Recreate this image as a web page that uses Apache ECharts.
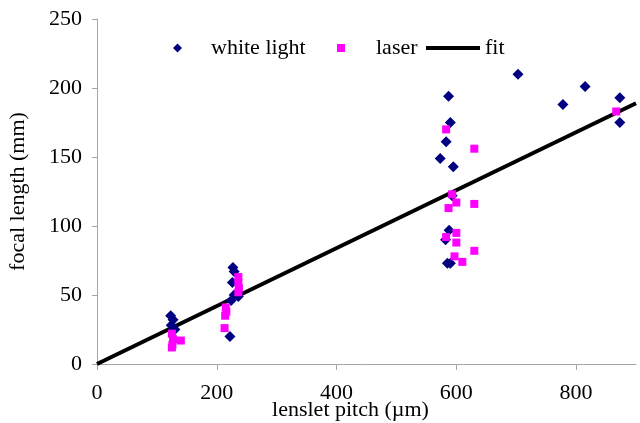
<!DOCTYPE html>
<html style="height: 100%">
   <head>
       <meta charset="utf-8">
   </head>
   <body style="height: 100%; margin: 0; background: #fff">
       <div id="container" style="width: 640px; height: 423px"></div>
       <script type="text/javascript" src="https://cdn.jsdelivr.net/npm/echarts@6/dist/echarts.min.js"></script>
       <script type="text/javascript">
// lenslet pitch (um) vs focal length (mm)
var whiteLight = [
    [123, 35], [127, 32], [124, 28], [130, 25],
    [227, 70], [229, 67], [226, 59], [229, 50], [236, 49], [224, 46], [222, 20],
    [587, 194], [590, 175], [583, 161], [573, 149], [595, 143], [593, 122],
    [588, 97], [582, 90], [585, 73], [590, 73],
    [703, 210], [778, 188], [815, 201], [873, 193], [873, 175]
];
var laser = [
    [125, 22], [127, 18], [126, 14], [125, 12], [140, 17],
    [236, 63], [236, 59], [237, 55], [236, 52], [215, 41], [216, 38], [214, 35], [213, 26],
    [583, 170], [630, 156], [593, 123], [600, 117], [587, 113], [630, 116],
    [600, 95], [583, 92], [600, 88], [630, 82], [597, 78], [610, 74],
    [867, 183]
];
var fit = [[0, 0], [900, 189]];
var xTicks = [0, 200, 400, 600, 800];

var dom = document.getElementById("container");
var myChart = echarts.init(dom);
var font = 'Liberation Serif';
var axisGrey = '#a6a6a6';
var legendText = { fontFamily: font, fontSize: 22, color: '#000' };

var option = {
    animation: false,
    textStyle: { fontFamily: font },
    legend: [
        {
            left: 173, top: 37, padding: 0,
            itemWidth: 9, itemHeight: 9,
            textStyle: Object.assign({ padding: [0, 0, 0, 24] }, legendText),
            data: [{ name: 'white light', icon: 'diamond' }]
        },
        {
            left: 337, top: 37, padding: 0,
            itemWidth: 8, itemHeight: 8,
            textStyle: Object.assign({ padding: [0, 0, 0, 26] }, legendText),
            data: [{ name: 'laser', icon: 'rect' }]
        },
        {
            left: 426, top: 37, padding: 0,
            itemWidth: 54, itemHeight: 4,
            textStyle: legendText,
            data: [{ name: 'fit', icon: 'rect', itemStyle: { color: '#000' } }]
        }
    ],
    grid: { left: 97, right: 4, top: 19, bottom: 59, outerBoundsMode: 'none', containLabel: false },
    xAxis: {
        type: 'value',
        min: 0,
        max: 900,
        interval: 200,
        name: 'lenslet pitch (\u00b5m)',
        nameLocation: 'middle',
        nameGap: 35,
        nameMoveOverlap: false,
        nameTextStyle: { fontFamily: font, fontSize: 22, color: '#000', padding: [0, 32, 0, 0] },
        axisLine: { show: true, lineStyle: { color: axisGrey, width: 1 } },
        axisTick: { show: true, length: 6, lineStyle: { color: axisGrey }, customValues: xTicks },
        axisLabel: { fontFamily: font, fontSize: 22, color: '#000', margin: 18, customValues: xTicks },
        splitLine: { show: false }
    },
    yAxis: {
        type: 'value',
        min: 0,
        max: 250,
        interval: 50,
        name: 'focal length (mm)',
        nameLocation: 'middle',
        nameGap: 68,
        nameMoveOverlap: false,
        nameTextStyle: { fontFamily: font, fontSize: 22, color: '#000' },
        axisLine: { show: true, lineStyle: { color: axisGrey, width: 1 } },
        axisTick: { show: true, length: 5, lineStyle: { color: axisGrey } },
        axisLabel: { fontFamily: font, fontSize: 22, color: '#000', margin: 15 },
        splitLine: { show: false }
    },
    series: [
        {
            name: 'fit',
            type: 'line',
            data: fit,
            symbol: 'none',
            z: 1,
            lineStyle: { color: '#000', width: 4 },
            itemStyle: { color: '#000' }
        },
        {
            name: 'white light',
            type: 'scatter',
            data: whiteLight,
            symbol: 'diamond',
            symbolSize: 11,
            z: 2,
            itemStyle: { color: '#000080', opacity: 1 }
        },
        {
            name: 'laser',
            type: 'scatter',
            data: laser,
            symbol: 'rect',
            symbolSize: 8,
            z: 3,
            itemStyle: { color: '#ff00ff', opacity: 1 }
        }
    ]
};
myChart.setOption(option);
       </script>
   </body>
</html>
